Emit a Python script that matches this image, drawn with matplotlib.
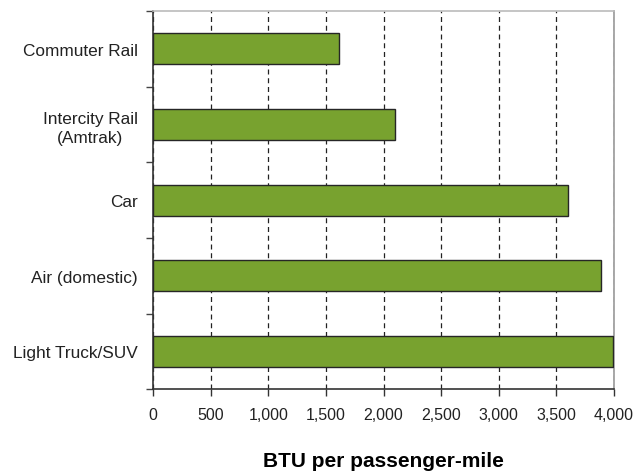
import matplotlib
matplotlib.use('Agg')
import matplotlib.pyplot as plt
import numpy as np

# ── Data ──────────────────────────────────────────────────────────────────────
modes = ['Commuter Rail', 'Intercity Rail\n(Amtrak)', 'Car', 'Air (domestic)', 'Light Truck/SUV']
btu = [1614, 2100, 3600, 3890, 3990]
xticks = [0, 500, 1000, 1500, 2000, 2500, 3000, 3500, 4000]

plt.rcParams['font.family'] = ['Liberation Sans', 'DejaVu Sans']

fig = plt.figure(figsize=(6.35, 4.77), dpi=100)
ax = fig.add_axes([0.241, 0.182, 0.726, 0.793])

pos = np.arange(len(modes))
ax.barh(pos, btu, height=0.41, color='#78a22f', edgecolor='#262626', linewidth=1.0, zorder=3)

ax.set_ylim(len(modes) - 0.5, -0.5)
ax.set_xlim(0, 4000)

ax.set_xticks(xticks)
ax.set_xticklabels([f'{v:,}' for v in xticks], fontsize=11.5, color='#222222')
ax.tick_params(axis='x', length=5, width=1, color='#333333', pad=8)

# category labels at bar centers, ticks at band boundaries
ax.set_yticks(pos)
ax.set_yticklabels(modes, fontsize=12.4, color='#222222', linespacing=1.35,
                   multialignment='center')
ax.tick_params(axis='y', which='major', length=0, pad=11)
ax.set_yticks(np.arange(-0.5, len(modes)), minor=True)
ax.tick_params(axis='y', which='minor', length=5, width=1, color='#444444')

ax.xaxis.grid(True, linestyle=(0, (4, 3)), color='#222222', linewidth=0.9, zorder=0)

ax.spines['left'].set_color('#333333')
ax.spines['bottom'].set_color('#333333')
ax.spines['top'].set_color('#bbbbbb')
ax.spines['right'].set_color('#999999')
for s in ax.spines.values():
    s.set_linewidth(1.2)

ax.set_xlabel('BTU per passenger-mile', fontsize=15, fontweight='bold', labelpad=21)

plt.savefig('out.png', dpi=100)
plt.close(fig)
